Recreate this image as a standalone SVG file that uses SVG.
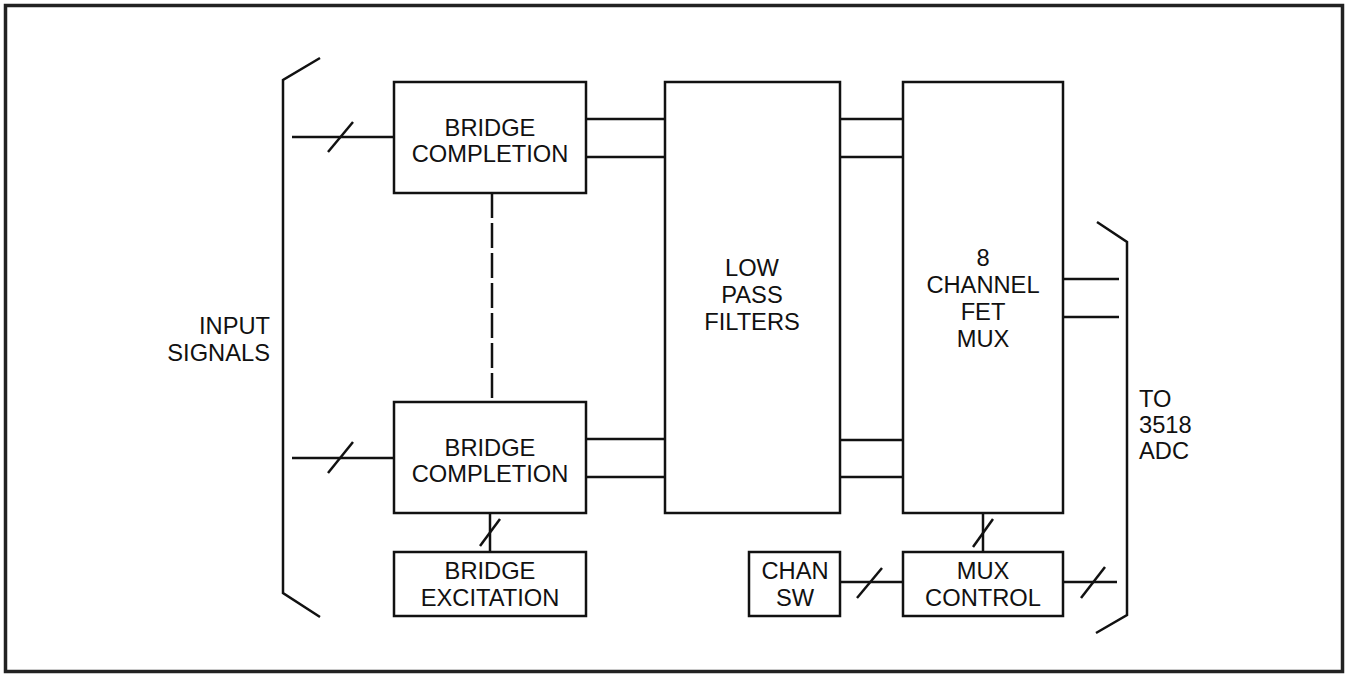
<svg xmlns="http://www.w3.org/2000/svg" width="1346" height="675" viewBox="0 0 1346 675">
<style>
.box{fill:#fff;stroke:#111;stroke-width:2.5}
.ln{fill:none;stroke:#111;stroke-width:2.5}
.dash{fill:none;stroke:#111;stroke-width:2.5;stroke-dasharray:25 5}
text{font-family:"Liberation Sans",Arial,sans-serif;font-size:23.7px;fill:#111}
.c{text-anchor:middle}
.r{text-anchor:end}
</style>
<rect x="0" y="0" width="1346" height="675" fill="#fff"/>
<rect x="5.5" y="5.5" width="1337" height="666" fill="none" stroke="#222" stroke-width="3.5"/>
<g id="connectors">
<polyline class="ln" points="320,58 283,80 283,593 320,617"/>
<polyline class="ln" points="1097,222 1127,242 1127,615 1096,633"/>
<line class="ln" x1="292" y1="137" x2="394" y2="137"/>
<line class="ln" x1="328" y1="152" x2="353" y2="122"/>
<line class="ln" x1="292" y1="458" x2="394" y2="458"/>
<line class="ln" x1="328" y1="473" x2="353" y2="442"/>
<line class="dash" x1="492" y1="193" x2="492" y2="402"/>
<line class="ln" x1="490" y1="513" x2="490" y2="552"/>
<line class="ln" x1="480" y1="546" x2="500" y2="519"/>
<line class="ln" x1="586" y1="119" x2="665" y2="119"/>
<line class="ln" x1="586" y1="157" x2="665" y2="157"/>
<line class="ln" x1="586" y1="439" x2="665" y2="439"/>
<line class="ln" x1="586" y1="477" x2="665" y2="477"/>
<line class="ln" x1="840" y1="119" x2="903" y2="119"/>
<line class="ln" x1="840" y1="157" x2="903" y2="157"/>
<line class="ln" x1="840" y1="440" x2="903" y2="440"/>
<line class="ln" x1="840" y1="477" x2="903" y2="477"/>
<line class="ln" x1="1063" y1="279" x2="1119" y2="279"/>
<line class="ln" x1="1063" y1="317" x2="1119" y2="317"/>
<line class="ln" x1="983" y1="513" x2="983" y2="552"/>
<line class="ln" x1="973" y1="547" x2="993" y2="519"/>
<line class="ln" x1="840" y1="582" x2="903" y2="582"/>
<line class="ln" x1="857" y1="598" x2="882" y2="568"/>
<line class="ln" x1="1063" y1="582" x2="1117" y2="582"/>
<line class="ln" x1="1081" y1="598" x2="1105" y2="567"/>
</g>
<g id="bridge1">
<rect class="box" x="394" y="82" width="192" height="111"/>
<text class="c" x="490" y="136">BRIDGE</text>
<text class="c" x="490" y="162">COMPLETION</text>
</g>
<g id="bridge2">
<rect class="box" x="394" y="402" width="192" height="111"/>
<text class="c" x="490" y="456">BRIDGE</text>
<text class="c" x="490" y="482">COMPLETION</text>
</g>
<g id="excitation">
<rect class="box" x="394" y="552" width="192" height="64"/>
<text class="c" x="490" y="579">BRIDGE</text>
<text class="c" x="490" y="606">EXCITATION</text>
</g>
<g id="lpf">
<rect class="box" x="665" y="82" width="175" height="431"/>
<text class="c" x="752" y="276">LOW</text>
<text class="c" x="752" y="303">PASS</text>
<text class="c" x="752" y="330">FILTERS</text>
</g>
<g id="mux">
<rect class="box" x="903" y="82" width="160" height="431"/>
<text class="c" x="983" y="266">8</text>
<text class="c" x="983" y="293">CHANNEL</text>
<text class="c" x="983" y="320">FET</text>
<text class="c" x="983" y="347">MUX</text>
</g>
<g id="chansw">
<rect class="box" x="749" y="552" width="91" height="64"/>
<text class="c" x="795" y="579">CHAN</text>
<text class="c" x="795" y="606">SW</text>
</g>
<g id="muxctrl">
<rect class="box" x="903" y="552" width="160" height="64"/>
<text class="c" x="983" y="579">MUX</text>
<text class="c" x="983" y="606">CONTROL</text>
</g>
<g id="input">
<text class="r" x="270" y="334">INPUT</text>
<text class="r" x="270" y="361">SIGNALS</text>
</g>
<g id="output">
<text x="1139" y="407">TO</text>
<text x="1139" y="433">3518</text>
<text x="1139" y="459">ADC</text>
</g>
</svg>
